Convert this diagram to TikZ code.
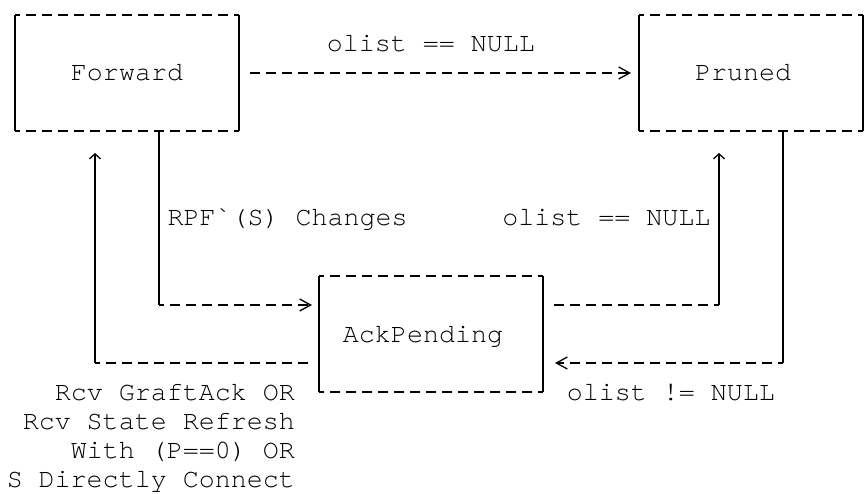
\documentclass[tikz,border=0pt]{standalone}
\usepackage{fontspec}
\setmainfont{TeX Gyre Cursor}
\usetikzlibrary{arrows.meta}

\tikzset{
  state/.style={minimum width=224pt, minimum height=116pt, inner sep=0pt, outer sep=0pt},
  txt/.style={inner sep=0pt, text height=16pt, text depth=0pt},
  vline/.style={line width=1.3pt},
  hline/.style={line width=1.3pt, dash pattern=on 10.5pt off 5.5pt, dash phase=5.25pt},
  frombox/.style={shorten <=10.75pt, dash phase=0pt},
  tip/.style={-{Straight Barb[length=11pt,width=12pt]}},
  caret/.style={-{Straight Barb[length=5pt,width=11pt]}, shorten >=22pt}
}

\begin{document}
\begin{tikzpicture}[x=16pt, y=-29pt, font=\fontsize{26.67pt}{29pt}\selectfont]
\useasboundingbox (-15pt,15pt) rectangle (850pt,-479pt);
\node[state, txt] (fwd) at (7,2) {Forward};
\node[state, txt] (prn) at (46,2) {Pruned\phantom{x}};
\node[state, txt] (ack) at (26,11) {AckPending\phantom{x}};
\foreach \b in {fwd,prn,ack} {
  \draw[vline] (\b.north west) -- (\b.south west) (\b.north east) -- (\b.south east);
  \draw[hline] (\b.north west) -- (\b.north east) (\b.south west) -- (\b.south east);
}
\coordinate (rpf) at (9,10);
\coordinate (dnA) at (44,10);
\coordinate (dnB) at (48,12);
\coordinate (up) at (5,12);
\draw[hline, frombox, tip, shorten >=8pt] (fwd.east) -- node[txt, pos=0.48, yshift=29pt] (nullA) {olist == NULL} (prn.west);
\draw[vline] (fwd.south -| rpf) -- node[txt, right=8pt] (rpfch) {RPF\textasciigrave(S) Changes} (rpf);
\draw[hline, tip, shorten >=7pt] (rpf) -- (rpf -| ack.west);
\draw[hline, frombox] (ack.east |- dnA) -- (dnA);
\draw[vline, caret] (dnA) -- node[txt, left=8pt] (nullB) {olist == NULL} (dnA |- prn.south);
\draw[vline] (prn.south -| dnB) -- (dnB);
\draw[hline, tip, shorten >=12pt] (dnB) -- node[txt, pos=0.4667, yshift=-29pt] (nullC) {olist != NULL} (dnB -| ack.east);
\draw[hline, frombox] (ack.west |- up) -- (up);
\draw[vline, caret] (up) -- (up |- fwd.south);
\node[txt, anchor=east] (rcvA) at (17.5,13) {Rcv GraftAck OR};
\node[txt, anchor=east] (rcvB) at (17.5,14) {Rcv State Refresh};
\node[txt, anchor=east] (rcvC) at (17.5,15) {With (P==0) OR};
\node[txt, anchor=east] (rcvD) at (17.5,16) {S Directly Connect};
\end{tikzpicture}
\end{document}
